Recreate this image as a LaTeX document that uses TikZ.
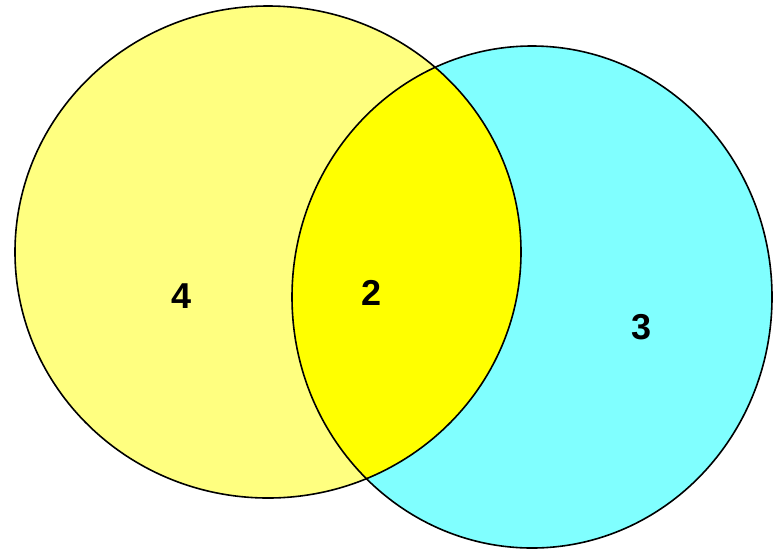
\documentclass[tikz,border=0pt]{standalone}
\usepackage{fontspec}
\setmainfont{Liberation Sans}
\definecolor{lightyel}{RGB}{255,255,128}
\definecolor{lightcyan}{RGB}{128,255,255}
\definecolor{brightyel}{RGB}{255,255,0}
\begin{document}
\begin{tikzpicture}[x=1pt,y=-1pt,
  outline/.style={draw=black,line width=1.6pt},
  numlabel/.style={font=\fontsize{36}{40}\selectfont\bfseries,inner sep=0pt}]
\useasboundingbox (0,0) rectangle (773,550);
\fill[lightyel] (268,252) ellipse [x radius=253,y radius=246];
\fill[lightcyan] (532,297) ellipse [x radius=240,y radius=251];
\begin{scope}
  \clip (268,252) ellipse [x radius=253,y radius=246];
  \fill[brightyel] (532,297) ellipse [x radius=240,y radius=251];
\end{scope}
\draw[outline] (268,252) ellipse [x radius=253,y radius=246];
\draw[outline] (532,297) ellipse [x radius=240,y radius=251];
\node[numlabel] (four) at (182,296) {4};
\node[numlabel] (two) at (372,293) {2};
\node[numlabel] (three) at (642,327) {3};
\end{tikzpicture}
\end{document}
